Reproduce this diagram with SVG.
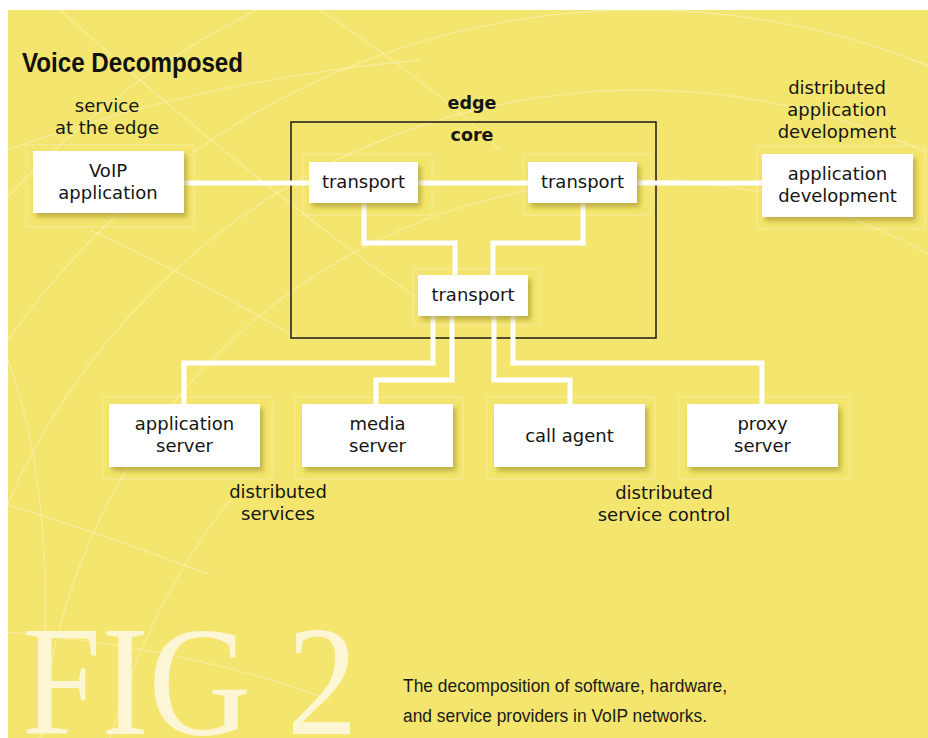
<svg xmlns="http://www.w3.org/2000/svg" width="928" height="738" viewBox="0 0 928 738">
<defs>
<style>
.bg{fill:#f3e56d}
.grid{fill:none;stroke:#fdf7c8;stroke-opacity:.45;stroke-width:1.5}
.box{fill:#fff;filter:url(#sh)}
.halo{fill:none;stroke:#fff;stroke-opacity:.35;stroke-width:1}
.t{font-family:"DejaVu Sans",Verdana,sans-serif;font-size:18px;fill:#151515;text-anchor:middle}
.b{font-family:"DejaVu Sans",Verdana,sans-serif;font-size:17.5px;font-weight:bold;fill:#151515;text-anchor:middle}
.conn{fill:none;stroke:#fff;stroke-width:5;stroke-linejoin:miter;stroke-linecap:butt}
</style>
<filter id="sh" x="-10%" y="-20%" width="130%" height="150%">
<feDropShadow dx="3" dy="4" stdDeviation="2.5" flood-color="#9c8a25" flood-opacity="0.6"/>
</filter>
<clipPath id="clipbg"><rect x="8" y="10" width="920" height="728"/></clipPath>
</defs>
<rect x="0" y="0" width="928" height="738" fill="#fff"/>
<rect class="bg" x="8" y="10" width="920" height="728"/>
<g id="background" clip-path="url(#clipbg)">
<circle class="grid" cx="640" cy="780" r="600"/>
<circle class="grid" cx="640" cy="780" r="690"/>
<circle class="grid" cx="640" cy="780" r="770"/>
<circle class="grid" cx="640" cy="780" r="860"/>
<path class="grid" d="M60 10 Q250 180 420 300"/>
<path class="grid" d="M8 505 Q120 540 210 575"/>
<path class="grid" d="M90 230 Q200 280 300 340"/>
<path class="grid" d="M8 150 Q200 80 420 60"/>
<path class="grid" d="M320 10 Q440 90 500 150"/>
<path class="grid" d="M8 360 Q60 500 40 738"/>
<path class="grid" d="M110 738 Q150 600 230 500"/>
<path class="grid" d="M8 632 Q200 650 330 700"/>
</g>
<text id="fig" x="22" y="734" font-family="'Liberation Serif',serif" font-size="156" fill="#fcf6d4" textLength="336" lengthAdjust="spacingAndGlyphs">FIG 2</text>
<text id="title" x="22" y="72" font-family="'Liberation Sans',Arial,sans-serif" font-size="27" font-weight="bold" fill="#111" textLength="221" lengthAdjust="spacingAndGlyphs">Voice Decomposed</text>
<g id="labels">
<text class="t" x="107" y="112">service</text>
<text class="t" x="107" y="134">at the edge</text>
<text class="t" x="837" y="94">distributed</text>
<text class="t" x="837" y="116">application</text>
<text class="t" x="837" y="138">development</text>
<text class="t" x="278" y="498">distributed</text>
<text class="t" x="278" y="520">services</text>
<text class="t" x="664" y="499">distributed</text>
<text class="t" x="664" y="521">service control</text>
<text class="b" x="472" y="109">edge</text>
<text class="b" x="472" y="141">core</text>
</g>
<g id="edge"><rect x="291" y="122" width="365" height="216" fill="none" stroke="#1a1a1a" stroke-width="1.5"/></g>
<g id="halos">
<rect class="halo" x="26" y="145" width="168" height="82"/>
<rect class="halo" x="303" y="154" width="129" height="61"/>
<rect class="halo" x="523" y="154" width="128" height="61"/>
<rect class="halo" x="413" y="269" width="127" height="56"/>
<rect class="halo" x="757" y="146" width="168" height="83"/>
<rect class="halo" x="103" y="397" width="169" height="82"/>
<rect class="halo" x="295" y="397" width="168" height="82"/>
<rect class="halo" x="487" y="397" width="168" height="82"/>
<rect class="halo" x="679" y="397" width="171" height="82"/>
</g>
<g id="connectors">
<path class="conn" d="M184 183 H309"/>
<path class="conn" d="M418 183 H528"/>
<path class="conn" d="M637 183 H762"/>
<path class="conn" d="M364 203 V243 H455 V275"/>
<path class="conn" d="M583 203 V243 H493 V275"/>
<path class="conn" d="M433 316 V363 H184 V404"/>
<path class="conn" d="M452 316 V380 H376 V404"/>
<path class="conn" d="M494 316 V380 H570 V404"/>
<path class="conn" d="M513 316 V363 H762 V404"/>
</g>
<g id="voip">
<rect class="box" x="33" y="151" width="151" height="62"/>
<text class="t" x="108" y="177">VoIP</text>
<text class="t" x="108" y="199">application</text>
</g>
<g id="transport1">
<rect class="box" x="309" y="162" width="109" height="41"/>
<text class="t" x="363.5" y="188">transport</text>
</g>
<g id="transport2">
<rect class="box" x="528" y="162" width="109" height="41"/>
<text class="t" x="582.5" y="188">transport</text>
</g>
<g id="transport3">
<rect class="box" x="418" y="275" width="110" height="41"/>
<text class="t" x="473" y="301">transport</text>
</g>
<g id="appdev">
<rect class="box" x="762" y="154" width="151" height="63"/>
<text class="t" x="837.5" y="180">application</text>
<text class="t" x="837.5" y="202">development</text>
</g>
<g id="appserver">
<rect class="box" x="109" y="404" width="151" height="63"/>
<text class="t" x="184.5" y="430">application</text>
<text class="t" x="184.5" y="452">server</text>
</g>
<g id="mediaserver">
<rect class="box" x="302" y="404" width="151" height="63"/>
<text class="t" x="377.5" y="430">media</text>
<text class="t" x="377.5" y="452">server</text>
</g>
<g id="callagent">
<rect class="box" x="494" y="404" width="151" height="63"/>
<text class="t" x="569.5" y="442">call agent</text>
</g>
<g id="proxyserver">
<rect class="box" x="687" y="404" width="151" height="63"/>
<text class="t" x="762.5" y="430">proxy</text>
<text class="t" x="762.5" y="452">server</text>
</g>
<g id="caption" font-family="'Liberation Sans',Arial,sans-serif" font-size="19" fill="#1a1a1a">
<text x="403" y="692" textLength="324" lengthAdjust="spacingAndGlyphs">The decomposition of software, hardware,</text>
<text x="403" y="722" textLength="304" lengthAdjust="spacingAndGlyphs">and service providers in VoIP networks.</text>
</g>
</svg>
